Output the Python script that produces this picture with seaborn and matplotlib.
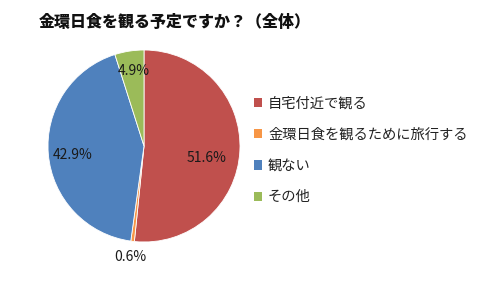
import matplotlib
matplotlib.use("Agg")
import matplotlib.pyplot as plt
import seaborn as sns
import numpy as np
from matplotlib.patches import Patch

categories = ["自宅付近で観る", "金環日食を観るために旅行する", "観ない", "その他"]
values = [51.6, 0.6, 42.9, 4.9]
labels = ["51.6%", "0.6%", "42.9%", "4.9%"]
colors = ["#C0504D", "#F79646", "#4F81BD", "#9BBB59"]
title = "金環日食を観る予定ですか？（全体）"

sns.set_theme(style="white")
plt.rcParams['font.family'] = ['Noto Sans CJK JP', 'DejaVu Sans']
palette = sns.color_palette(colors)

fig = plt.figure(figsize=(4.95, 2.82), dpi=100)
ax = fig.add_axes([48/495, 40/282, 192/495, 192/282])
wedges, _ = ax.pie(values, colors=palette, startangle=90, counterclock=False,
                   wedgeprops=dict(edgecolor="white", linewidth=0.6), radius=1.0)
ax.set_aspect("equal")
ax.set_xlim(-1, 1)
ax.set_ylim(-1, 1)

dists = [0.66, 1.16, 0.75, 0.79]
offsets = [-8, 0, 2, -1]
for w, lab, d, off in zip(wedges, labels, dists, offsets):
    ang = np.deg2rad((w.theta1 + w.theta2) / 2 + off)
    ax.text(d * np.cos(ang), d * np.sin(ang), lab, ha="center", va="center",
            fontsize=10, color="#1a1a1a", clip_on=False)

fig.text(39/495, 1 - 22/282, title, fontsize=11.5, fontweight="heavy",
         ha="left", va="center", color="#111111")

handles = [Patch(facecolor=c, edgecolor="none") for c in palette]
leg = fig.legend(handles, categories, loc="upper left",
                 bbox_to_anchor=(248/495, 1 - 91/282), frameon=False,
                 fontsize=10.3, handlelength=0.6, handleheight=0.6,
                 handletextpad=0.4, labelspacing=1.2, borderaxespad=0)
for t in leg.get_texts():
    t.set_color("#222222")

fig.savefig("out.png", dpi=100)
